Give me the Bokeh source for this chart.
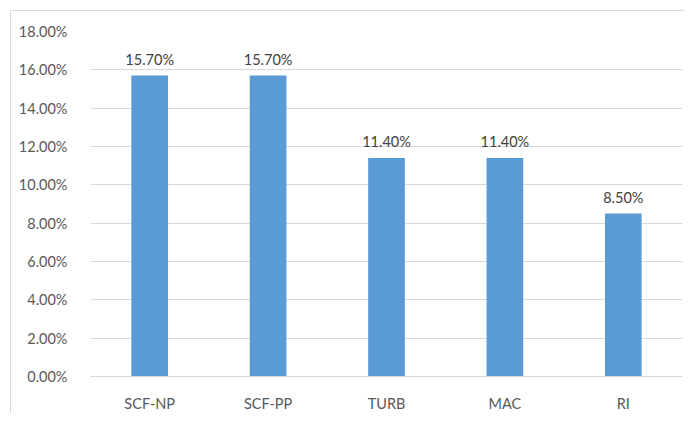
from bokeh.plotting import figure
from bokeh.models import ColumnDataSource, NumeralTickFormatter, Range1d, FixedTicker
from bokeh.core.properties import value
from bokeh.embed import file_html
from bokeh.resources import INLINE

categories = ["SCF-NP", "SCF-PP", "TURB", "MAC", "RI"]
values = [0.157, 0.157, 0.114, 0.114, 0.085]
labels = ["15.70%", "15.70%", "11.40%", "11.40%", "8.50%"]
y_ticks = [0.0, 0.02, 0.04, 0.06, 0.08, 0.10, 0.12, 0.14, 0.16, 0.18]

FONT = "Lato"

src = ColumnDataSource(dict(cat=categories, val=values, lab=labels))

p = figure(x_range=categories, y_range=Range1d(0, 0.18), width=674, height=403,
           output_backend="svg", toolbar_location=None,
           min_border_left=79, min_border_right=3, min_border_top=20, min_border_bottom=33)
p.styles = {"margin-left": "10px", "margin-top": "10px",
            "border-top": "1px solid #d9d9d9", "border-left": "1px solid #d9d9d9"}

p.vbar(x="cat", top="val", width=0.31, source=src, color="#5B9BD5", line_color=None)
p.text(x="cat", y="val", text="lab", source=src, text_align="center", text_baseline="bottom",
       y_offset=-8, text_font=value(FONT), text_font_size="14.5px", text_color="#404040")

p.outline_line_color = None
p.xgrid.grid_line_color = None
p.ygrid.grid_line_color = "#d9d9d9"
p.ygrid.grid_line_width = 1
p.yaxis.ticker = FixedTicker(ticks=y_ticks)
p.yaxis.formatter = NumeralTickFormatter(format="0.00%")
p.yaxis.axis_line_color = None
p.yaxis.major_tick_line_color = None
p.yaxis.minor_tick_line_color = None
p.yaxis.major_label_standoff = 17
p.xaxis.axis_line_color = "#d9d9d9"
p.xaxis.major_tick_line_color = None
p.xaxis.minor_tick_line_color = None
p.xaxis.major_label_standoff = 12
for ax in (p.xaxis[0], p.yaxis[0]):
    ax.major_label_text_font = FONT
    ax.major_label_text_font_size = "14.5px"
    ax.major_label_text_color = "#595959"

open("out.html", "w").write(file_html(p, INLINE))
